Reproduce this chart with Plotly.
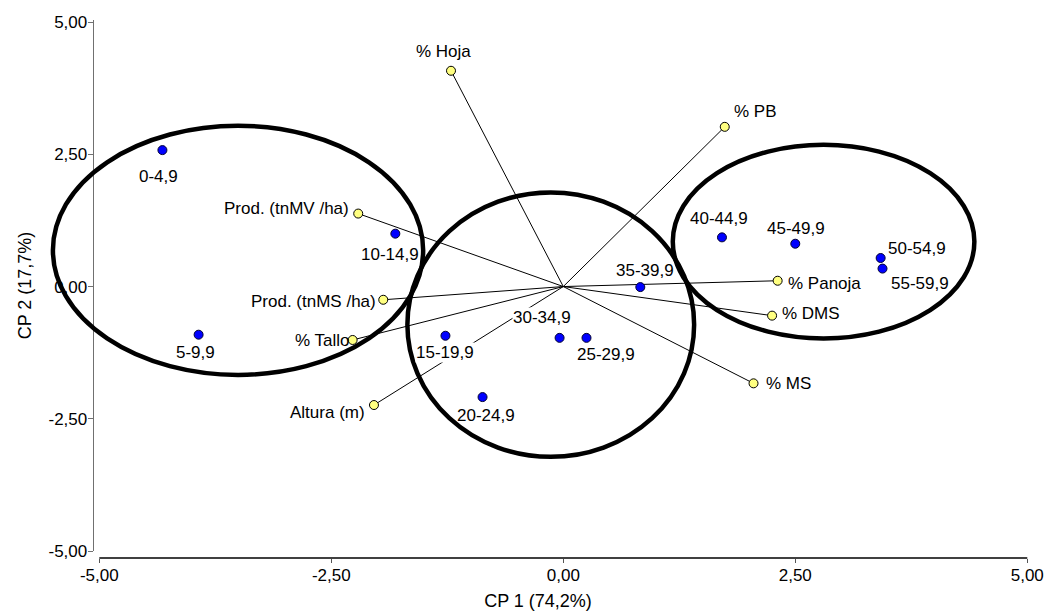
import plotly.graph_objects as go

# ---------------- data ----------------
obs_labels = ["0-4,9", "5-9,9", "10-14,9", "15-19,9", "20-24,9", "25-29,9",
              "30-34,9", "35-39,9", "40-44,9", "45-49,9", "50-54,9", "55-59,9"]
obs_cp1 = [-4.32, -3.93, -1.81, -1.27, -0.87, 0.25, -0.04, 0.83, 1.71, 2.50, 3.42, 3.44]
obs_cp2 = [2.58, -0.91, 1.00, -0.93, -2.09, -0.97, -0.97, -0.01, 0.93, 0.81, 0.54, 0.34]

var_labels = ["% Hoja", "% PB", "Prod. (tnMV /ha)", "Prod. (tnMS /ha)", "% Tallo",
              "Altura (m)", "% Panoja", "% DMS", "% MS"]
var_cp1 = [-1.21, 1.74, -2.21, -1.94, -2.27, -2.04, 2.31, 2.25, 2.05]
var_cp2 = [4.08, 3.02, 1.38, -0.25, -1.01, -2.24, 0.11, -0.55, -1.83]

# cluster ellipses (CP1 min, CP1 max, CP2 min, CP2 max)
cluster_cp1_min = [-5.50, -1.68, 1.18]
cluster_cp1_max = [-1.51, 1.41, 4.43]
cluster_cp2_min = [-1.67, -3.22, -0.98]
cluster_cp2_max = [3.04, 1.78, 2.68]

tick_vals = [-5, -2.5, 0, 2.5, 5]
tick_text = ["-5,00", "-2,50", "0,00", "2,50", "5,00"]

# ---------------- layout constants / label styling ----------------
X_RANGE = [-5.596, 5.051]
Y_RANGE = [-5.0, 5.04]
Y_AXIS_AT = -5.07
FONT = "Liberation Sans, Arial, sans-serif"
FS = 17

# label placement (anchor, dx px, dy px [down positive])
obs_lab_style = [("center", -4, 26), ("center", -3, 18), ("center", -5, 21), ("center", 0, 17),
                 ("center", 3, 18), ("center", 20, 17), ("center", -18, -20), ("center", 5, -17),
                 ("center", -3, -19), ("center", 1, -15), ("left", 6, -10), ("left", 7, 15)]
obs_lab_bg = [False, False, False, True, False, False, True, False, False, False, False, False]
var_lab_style = [("center", -8, -19), ("left", 8, -15), ("right", -8, -5), ("right", -6, 2),
                 ("right", -2, 1), ("right", -8, 7), ("left", 9, 3), ("left", 9, -2), ("left", 11, 0)]

fig = go.Figure()

# loading vectors
for vx, vy in zip(var_cp1, var_cp2):
    fig.add_trace(go.Scatter(x=[0, vx], y=[0, vy], mode="lines",
                             line=dict(color="black", width=1), hoverinfo="skip",
                             showlegend=False))

# variable points
fig.add_trace(go.Scatter(x=var_cp1, y=var_cp2, mode="markers", showlegend=False,
                         marker=dict(size=9, color="#FFFF80",
                                     line=dict(color="black", width=1)),
                         cliponaxis=False))
# observation points
fig.add_trace(go.Scatter(x=obs_cp1, y=obs_cp2, mode="markers", showlegend=False,
                         marker=dict(size=9, color="#0000FF",
                                     line=dict(color="#000033", width=1)),
                         cliponaxis=False))

# labels
annos = []
for lab, x, y, (anc, dx, dy), bg in zip(obs_labels, obs_cp1, obs_cp2, obs_lab_style, obs_lab_bg):
    annos.append(dict(x=x, y=y, xref="x", yref="y", text=lab, showarrow=False,
                      xanchor=anc, yanchor="middle", xshift=dx, yshift=-dy,
                      font=dict(family=FONT, size=FS, color="black"),
                      bgcolor="white" if bg else "rgba(0,0,0,0)", borderpad=0))
for lab, x, y, (anc, dx, dy) in zip(var_labels, var_cp1, var_cp2, var_lab_style):
    annos.append(dict(x=x, y=y, xref="x", yref="y", text=lab, showarrow=False,
                      xanchor=anc, yanchor="middle", xshift=dx, yshift=-dy,
                      font=dict(family=FONT, size=FS, color="black"), borderpad=0))

# cluster ellipses
shapes = []
for x0, x1, y0, y1 in zip(cluster_cp1_min, cluster_cp1_max, cluster_cp2_min, cluster_cp2_max):
    shapes.append(dict(type="circle", xref="x", yref="y", x0=x0, x1=x1, y0=y0, y1=y1,
                       line=dict(color="black", width=4.5), layer="above"))
# x-axis line spanning the tick range
shapes.append(dict(type="line", xref="x", yref="paper", x0=tick_vals[0], x1=tick_vals[-1],
                   y0=0, y1=0, line=dict(color="black", width=1.3)))

y_pos = (Y_AXIS_AT - X_RANGE[0]) / (X_RANGE[1] - X_RANGE[0])

# the page body adds an 8px margin, so the figure is 8px smaller in each direction
fig.update_layout(
    width=1046, height=604,
    margin=dict(l=36, r=22, t=12, b=54),
    paper_bgcolor="white", plot_bgcolor="white",
    font=dict(family=FONT, size=FS, color="black"),
    showlegend=False,
    annotations=annos,
    shapes=shapes,
    xaxis=dict(range=X_RANGE, tickvals=tick_vals, ticktext=tick_text, showgrid=False,
               zeroline=False, showline=False, ticks="outside", ticklen=4,
               tickcolor="#555555", anchor="free", position=0, automargin=False,
               ticklabelstandoff=-2,
               tickfont=dict(family=FONT, size=FS, color="black"),
               title=dict(text="CP 1 (74,2%)", font=dict(family=FONT, size=18, color="black"),
                          standoff=9)),
    yaxis=dict(range=Y_RANGE, domain=[7 / 538, 1], tickvals=tick_vals, ticktext=tick_text,
               showgrid=False, zeroline=False, showline=True, linecolor="#707070",
               linewidth=1.3, ticks="outside", ticklen=5, tickcolor="#707070",
               anchor="free", position=y_pos, automargin=False,
               ticklabelstandoff=-3,
               tickfont=dict(family=FONT, size=FS, color="black"),
               title=dict(text="CP 2 (17,7%)", font=dict(family=FONT, size=18, color="black"),
                          standoff=11)),
)

fig.write_html("out.html")
